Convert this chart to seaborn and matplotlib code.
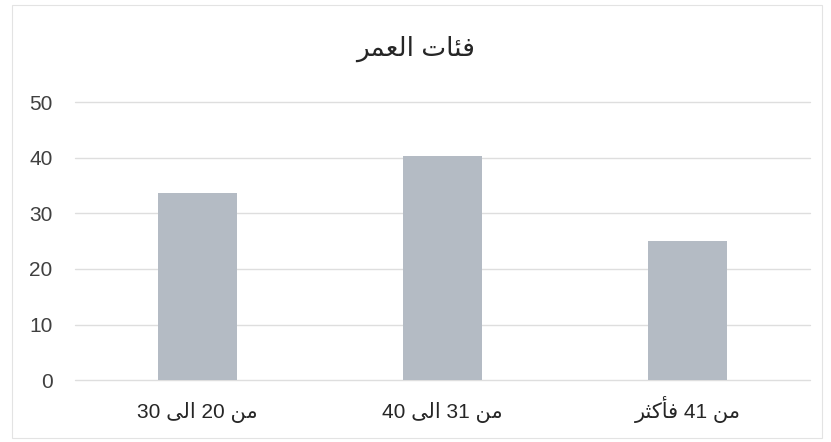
import matplotlib
matplotlib.use("Agg")
import matplotlib.pyplot as plt
import seaborn as sns
import pandas as pd
import re

title = "فئات العمر"
categories = ["من 20 الى 30", "من 31 الى 40", "من 41 فأكثر"]
values = [33.6, 40.3, 25.0]
yticks = [0, 10, 20, 30, 40, 50]

# minimal Arabic shaping (isolated, final, initial, medial)
FORMS = {
    "\u0627": ("\uFE8D", "\uFE8E", None, None),
    "\u0623": ("\uFE83", "\uFE84", None, None),
    "\u062A": ("\uFE95", "\uFE96", "\uFE97", "\uFE98"),
    "\u062B": ("\uFE99", "\uFE9A", "\uFE9B", "\uFE9C"),
    "\u0631": ("\uFEAD", "\uFEAE", None, None),
    "\u0639": ("\uFEC9", "\uFECA", "\uFECB", "\uFECC"),
    "\u0641": ("\uFED1", "\uFED2", "\uFED3", "\uFED4"),
    "\u0643": ("\uFED9", "\uFEDA", "\uFEDB", "\uFEDC"),
    "\u0644": ("\uFEDD", "\uFEDE", "\uFEDF", "\uFEE0"),
    "\u0645": ("\uFEE1", "\uFEE2", "\uFEE3", "\uFEE4"),
    "\u0646": ("\uFEE5", "\uFEE6", "\uFEE7", "\uFEE8"),
    "\u0649": ("\uFEEF", "\uFEF0", None, None),
    "\u0626": ("\uFE89", "\uFE8A", "\uFE8B", "\uFE8C"),
}


def joins_next(c):
    return c in FORMS and FORMS[c][2] is not None


def shape_word(w):
    out = []
    for i, c in enumerate(w):
        if c not in FORMS:
            out.append(c)
            continue
        prev_j = i > 0 and joins_next(w[i - 1])
        next_j = i < len(w) - 1 and w[i + 1] in FORMS and joins_next(c)
        iso, fin, ini, med = FORMS[c]
        if prev_j and next_j:
            out.append(med)
        elif prev_j:
            out.append(fin)
        elif next_j:
            out.append(ini)
        else:
            out.append(iso)
    return "".join(out)


def rtl(s):
    tokens = re.findall(r"\d+|[^\d\s]+|\s+", s)
    vis = []
    for t in tokens:
        if t.isdigit() or t.isspace():
            vis.append(t)
        else:
            vis.append(shape_word(t)[::-1])
    return "".join(vis[::-1])


sns.set_theme(style="white")
plt.rcParams["font.family"] = ["Liberation Sans", "DejaVu Sans"]

df = pd.DataFrame({"cat": [rtl(c) for c in categories], "val": values})

fig = plt.figure(figsize=(8.31, 4.42), dpi=100)
ax = fig.add_axes([0.090, 0.140, 0.885, 0.629])
sns.barplot(data=df, x="cat", y="val", color="#b4bbc4", width=0.32,
            saturation=1, ax=ax, zorder=3, edgecolor="#b4bbc4", linewidth=0)
ax.set_xlim(-0.5, 2.5)
ax.set_ylim(0, 50)
ax.set_yticks(yticks)
ax.set_yticklabels([str(v) for v in yticks])
ax.yaxis.grid(True, color="#dedede", linewidth=1, zorder=0)
for gl in ax.get_ygridlines():
    gl.set_clip_on(False)
ax.set_axisbelow(True)
for s in ax.spines.values():
    s.set_visible(False)
ax.set_xlabel("")
ax.set_ylabel("")
ax.tick_params(axis="y", labelsize=15, labelcolor="#404040", pad=16, length=0)
ax.tick_params(axis="x", labelsize=15, labelcolor="#262626", pad=27, length=0)
for lbl in ax.get_xticklabels():
    lbl.set_verticalalignment("baseline")
fig.text(0.5, 0.89, rtl(title), ha="center", va="center", fontsize=19, color="#262626")

border = plt.Rectangle((0.014, 0.01), 0.975, 0.978, transform=fig.transFigure,
                       fill=False, edgecolor="#e3e3e3", linewidth=0.8)
fig.add_artist(border)

fig.savefig("out.png", dpi=100, facecolor="white")
